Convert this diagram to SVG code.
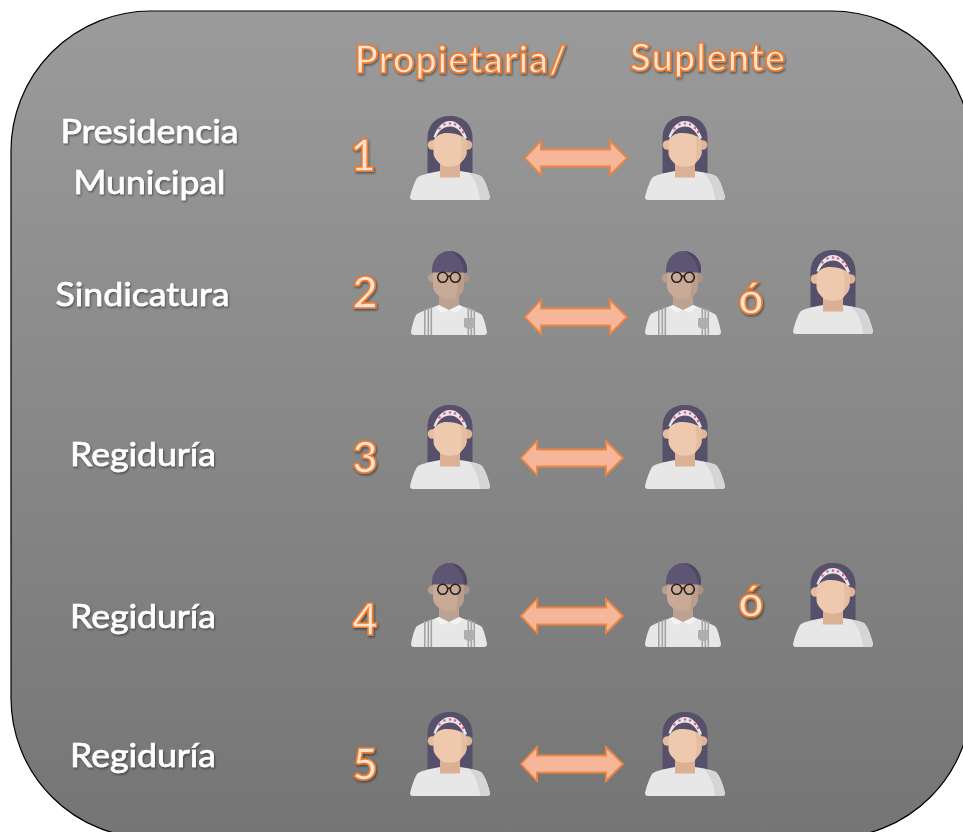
<svg xmlns="http://www.w3.org/2000/svg" xmlns:xlink="http://www.w3.org/1999/xlink" width="963" height="832" viewBox="0 0 963 832">
<style>
.lab{font-family:"Lato","Liberation Sans",sans-serif;font-size:33px;fill:#fff;stroke:#fff;stroke-width:.7px;text-anchor:middle;filter:url(#sh)}
.or{font-family:"Lato","Liberation Sans",sans-serif;font-weight:700;fill:#fde3d2;stroke:#ee7d2f;stroke-width:1.7px;text-anchor:middle;filter:url(#sh)}
.arr{fill:#f6b699;stroke:#ee8540;stroke-width:1.800}
</style>
<defs>
<linearGradient id="bg" x1="0" y1="0" x2="0" y2="1"><stop offset="0" stop-color="#9b9b9b"/><stop offset="1" stop-color="#757575"/></linearGradient>
<filter id="sh" x="-10%" y="-20%" width="120%" height="150%"><feDropShadow dx="1" dy="1.5" stdDeviation="1" flood-color="#000" flood-opacity=".45"/></filter>
<symbol id="woman" width="80" height="86" viewBox="0 0 80 86" overflow="visible">
<path d="M17.500 58V23C17.500 9 27 1 40 1S62.500 9 62.500 23V58Z" fill="#57506b"/>
<path d="M0 82C2 74 4 68 7 63C9 60 20 58 30 56H50C58 57 67 59 71 61C75 65 78 74 80 82Q80 85 77 85H3Q0 85 0 82Z" fill="#e7e7e7"/>
<path d="M58 57.500L71 61C75 65 78 74 80 82Q80 85 77 85H70C69 74 65 63 58 57.500Z" fill="#d5d5d7"/>
<rect x="30" y="46" width="20" height="16.500" fill="#dbb095"/>
<circle cx="22.500" cy="30" r="4.800" fill="#e6bd9f"/><circle cx="57.500" cy="30" r="4.800" fill="#dfb597"/>
<path d="M23.500 25C27 20 32 17.500 38 18C45 18.500 52 20 56.500 25V38C56.500 42 52 46 50 49C46 52.500 34 52.500 30 49C27 46 23.500 42 23.500 38Z" fill="#eec9ad"/>
<path d="M50.500 21C53 22 55 23.500 56.500 25V38C56.500 42 52 46 50 49C52 40 52 32 50.500 21Z" fill="#e5bea1"/>
<path d="M23.500 22C27 12 33 6 40 6S53 12 57 23L54.500 24C51 16 46 11.500 40 11.500S29 15 25.500 23Z" fill="#e6e6ea"/>
<circle cx="29.500" cy="13.500" r="1.200" fill="#e8557f"/><circle cx="34.500" cy="9.500" r="1.200" fill="#e8557f"/><circle cx="40" cy="8.500" r="1.200" fill="#e8557f"/><circle cx="45" cy="9.500" r="1.200" fill="#e8557f"/><circle cx="50" cy="13" r="1.200" fill="#e8557f"/><circle cx="53" cy="17" r="1.200" fill="#e8557f"/>
</symbol>
<symbol id="man" width="77" height="86" viewBox="0 0 77 86" overflow="visible">
<path d="M0 82C1 76 3 69 5 65C8 62 18 59 28 55H48C58 59 67 62 71 65C73 69 75 76 76 82Q76 85 73 85H3Q0 85 0 82Z" fill="#e7e7e7"/>
<g fill="#a5a5a5"><rect x="13" y="59" width="1.600" height="26"/><rect x="16.500" y="58" width="1.600" height="27"/><rect x="19.500" y="57" width="1.600" height="28"/><rect x="56.500" y="57" width="1.600" height="28"/><rect x="59.500" y="58" width="1.600" height="27"/><rect x="62.500" y="59" width="1.600" height="26"/></g>
<path d="M53 69Q53 68 54 68H63Q64 68 64 69V77L60 79H57L53 77Z" fill="#aeaeae"/>
<path d="M28 55L38 60L48 55L52 57L45 63L38 60L31 63L24 57Z" fill="#f3f3f3"/>
<path d="M28 40H48V55L38 60L28 55Z" fill="#bba292"/>
<circle cx="21.500" cy="28" r="4.600" fill="#b8a090"/><circle cx="54" cy="28" r="4.600" fill="#ac9384"/>
<path d="M22 18H53V36C53 43 46 49 38 49S22 43 22 36Z" fill="#c8aa96"/>
<path d="M46 18H53V36C53 41 50 45 45 48C47 38 47 28 46 18Z" fill="#ba9d8b"/>
<path d="M21 22.500V20C21 9 29 1 38.500 1S56 9 56 20V22.500Z" fill="#5e5474"/>
<path d="M40 1C49 2 56 10 56 20V22.500H53C53 14 48 6 40 1Z" fill="#504762"/>
<g fill="none" stroke="#26211f" stroke-width="1.600"><circle cx="31.700" cy="27.300" r="5"/><circle cx="44.300" cy="27.300" r="5"/><path d="M36.700 26.500Q38 25.500 39.300 26.500"/></g>
</symbol>
<symbol id="arrow" width="104" height="38" viewBox="0 0 104 38" overflow="visible">
<path d="M1 19L17 2V10.500H86V2L103 19L86 36V27.500H17V36Z"/>
</symbol>
</defs>
<g id="panel"><rect x="11" y="11" width="960.500" height="827" rx="140" ry="140" fill="url(#bg)" stroke="#000" stroke-width="1.200"/></g>
<g id="headers">
<text class="or" x="460.500" y="73" font-size="38" textLength="212">Propietaria/</text>
<text class="or" x="707.500" y="71" font-size="38" textLength="155">Suplente</text>
</g>
<g id="labels">
<text class="lab" x="149.500" y="143" textLength="178" lengthAdjust="spacingAndGlyphs">Presidencia</text>
<text class="lab" x="149.500" y="194" textLength="152" lengthAdjust="spacingAndGlyphs">Municipal</text>
<text class="lab" x="142.500" y="306" textLength="174" lengthAdjust="spacingAndGlyphs">Sindicatura</text>
<text class="lab" x="143" y="466" textLength="146" lengthAdjust="spacingAndGlyphs">Regiduría</text>
<text class="lab" x="143" y="628" textLength="146" lengthAdjust="spacingAndGlyphs">Regiduría</text>
<text class="lab" x="143" y="767" textLength="146" lengthAdjust="spacingAndGlyphs">Regiduría</text>
</g>
<g id="numbers">
<text class="or" x="363" y="171" font-size="44">1</text>
<text class="or" x="365" y="308" font-size="44">2</text>
<text class="or" x="365" y="473" font-size="44">3</text>
<text class="or" x="365" y="635" font-size="44">4</text>
<text class="or" x="365" y="780" font-size="44">5</text>
<text class="or" x="751" y="314" font-size="44">ó</text>
<text class="or" x="751" y="617" font-size="44">ó</text>
</g>
<g id="connectors" class="arr">
<use xlink:href="#arrow" x="524" y="139"/>
<use xlink:href="#arrow" x="524" y="298"/>
<use xlink:href="#arrow" x="520" y="439"/>
<use xlink:href="#arrow" x="520" y="597"/>
<use xlink:href="#arrow" x="520" y="745"/>
</g>
<g id="row1-prop"><use xlink:href="#woman" x="410" y="115"/></g>
<g id="row1-sup"><use xlink:href="#woman" x="645" y="115"/></g>
<g id="row2-prop"><use xlink:href="#man" x="411" y="250"/></g>
<g id="row2-sup"><use xlink:href="#man" x="645" y="250"/></g>
<g id="row2-alt"><use xlink:href="#woman" x="793" y="249"/></g>
<g id="row3-prop"><use xlink:href="#woman" x="410" y="404"/></g>
<g id="row3-sup"><use xlink:href="#woman" x="645" y="404"/></g>
<g id="row4-prop"><use xlink:href="#man" x="411" y="562"/></g>
<g id="row4-sup"><use xlink:href="#man" x="645" y="562"/></g>
<g id="row4-alt"><use xlink:href="#woman" x="793" y="562"/></g>
<g id="row5-prop"><use xlink:href="#woman" x="410" y="711"/></g>
<g id="row5-sup"><use xlink:href="#woman" x="645" y="711"/></g>
</svg>
